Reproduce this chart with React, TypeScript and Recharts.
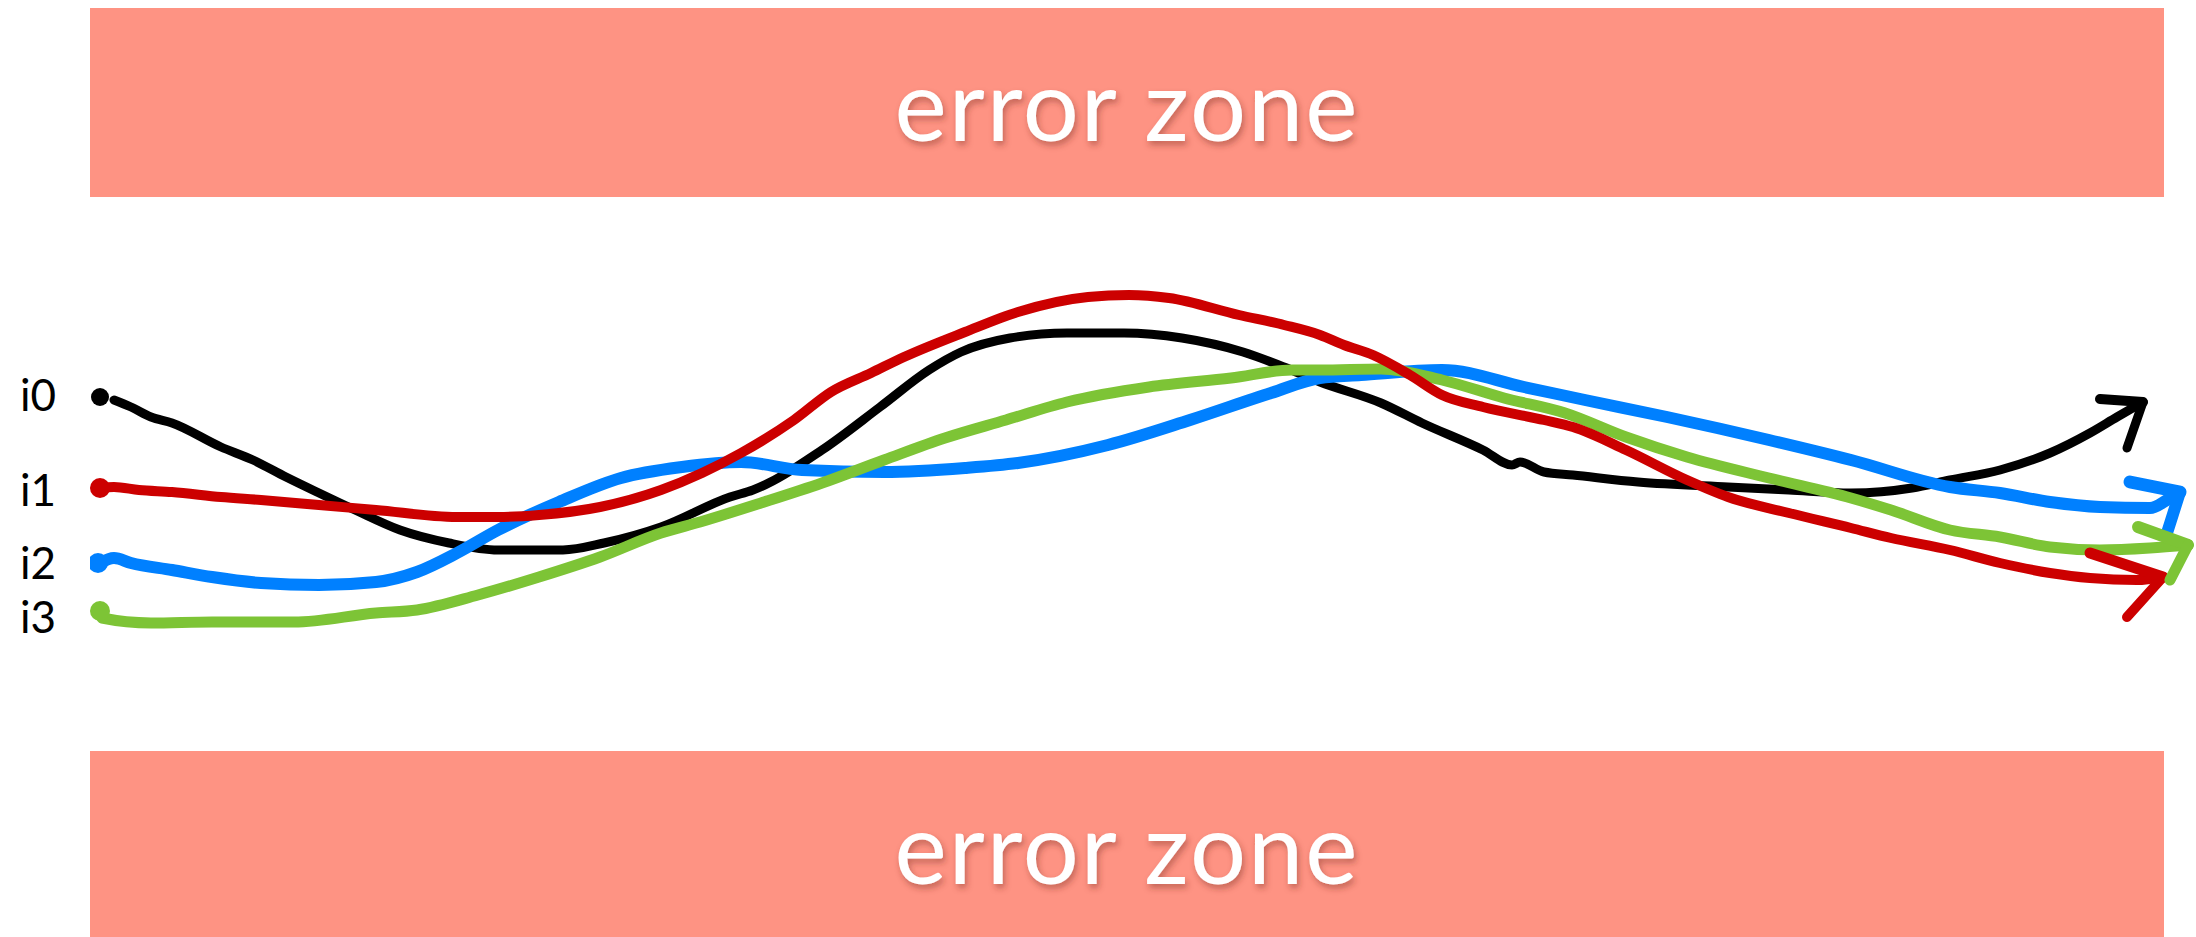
import { ComposedChart, Line, XAxis, YAxis, ReferenceArea } from 'recharts';

// input traces (x = time, y = position; y axis points down)
const i0X = [114, 131, 151, 172, 221, 253, 286, 319, 355, 400, 449, 498, 563, 604, 661, 730, 753, 822, 880, 929, 961, 1010, 1067, 1124, 1182, 1243, 1284, 1320, 1381, 1422, 1483, 1512, 1520, 1544, 1573, 1638, 1728, 1789, 1851, 1912, 1950, 2000, 2050, 2090, 2117, 2143];
const i0Y = [400, 407, 417, 423, 447, 460, 477, 493, 510, 530, 543, 550, 550, 543, 527, 497, 490, 450, 407, 370, 352, 338, 333, 333, 338, 352, 367, 382, 403, 423, 450, 465, 462, 472, 475, 482, 487, 490, 493, 488, 480, 470, 453, 433, 417, 402];

const i1X = [100, 114, 139, 172, 221, 261, 319, 376, 457, 498, 539, 600, 661, 702, 741, 794, 831, 871, 904, 965, 1018, 1088, 1129, 1169, 1239, 1284, 1320, 1344, 1373, 1410, 1442, 1483, 1544, 1573, 1626, 1687, 1728, 1789, 1851, 1891, 1950, 2000, 2050, 2090, 2137, 2163];
const i1Y = [488, 487, 490, 492, 497, 500, 505, 510, 517, 517, 515, 507, 490, 473, 453, 420, 392, 373, 357, 332, 312, 297, 295, 298, 315, 325, 335, 345, 355, 375, 395, 407, 420, 427, 450, 480, 497, 513, 528, 538, 550, 563, 573, 578, 580, 577];

const i2X = [100, 114, 131, 172, 212, 261, 319, 376, 417, 457, 498, 559, 621, 682, 741, 802, 884, 965, 1018, 1108, 1190, 1271, 1320, 1361, 1442, 1524, 1585, 1667, 1769, 1851, 1950, 2000, 2050, 2100, 2150, 2167, 2180];
const i2Y = [563, 558, 563, 570, 577, 583, 585, 582, 572, 553, 530, 502, 478, 467, 462, 470, 472, 468, 463, 445, 420, 393, 378, 375, 370, 387, 400, 417, 440, 460, 487, 493, 502, 507, 508, 500, 492];

const i3X = [100, 102, 151, 212, 294, 376, 417, 478, 539, 600, 661, 700, 761, 822, 884, 945, 1006, 1067, 1149, 1231, 1292, 1320, 1381, 1442, 1504, 1565, 1626, 1687, 1769, 1851, 1891, 1950, 2000, 2050, 2100, 2150, 2188];
const i3Y = [610, 618, 623, 622, 622, 613, 610, 595, 577, 557, 533, 522, 503, 483, 460, 438, 420, 402, 387, 378, 370, 370, 369, 380, 398, 413, 437, 457, 478, 498, 510, 530, 537, 547, 550, 548, 545];

// arrow heads: [tipX, tipY, barb1X, barb1Y, barb2X, barb2Y]
const arrowHeads = [
  [2143, 402, 2100, 399, 2127, 448],
  [2163, 577, 2090, 553, 2127, 617],
  [2180, 492, 2130, 482, 2167, 533],
  [2188, 545, 2138, 527, 2170, 580],
];

// where each trace starts
const startX = [100, 100, 98, 100];
const startY = [397, 488, 563, 611];

const labelNames = ['i0', 'i1', 'i2', 'i3'];
const labelTicks = [395, 490, 563, 617];

// error bands (y ranges)
const errorBands = [
  [8, 197],
  [751, 937],
];
const BAND_X = [90, 2164];

const colors = ['#000000', '#cc0000', '#0080ff', '#7dc436'];
const widths = [9, 10, 12, 11];
const dotR = [9, 10, 10, 10];

const zip = (xs: number[], ys: number[]) => xs.map((x, i) => ({ x, y: ys[i] }));
const traces = [zip(i0X, i0Y), zip(i1X, i1Y), zip(i2X, i2Y), zip(i3X, i3Y)];
const drawOrder = [0, 2, 3, 1];

const ZoneLabel = (props: any) => {
  const { viewBox } = props;
  if (!viewBox) return null;
  return (
    <g>
      <defs>
        <filter id="zoneShadow" x="-10%" y="-30%" width="120%" height="160%">
          <feDropShadow dx="2" dy="4" stdDeviation="3" floodColor="#7a2a20" floodOpacity="0.45" />
        </filter>
      </defs>
      <text
        x={viewBox.x + viewBox.width / 2}
        y={viewBox.y + 133}
        textAnchor="middle"
        fill="#ffffff"
        fontSize={99}
        fontFamily="Lato, sans-serif"
        letterSpacing={2}
        filter="url(#zoneShadow)"
      >
        error zone
      </text>
    </g>
  );
};

const InputTick = (props: any) => {
  const { y, payload } = props;
  const idx = labelTicks.indexOf(payload.value);
  return (
    <text x={20} y={y} dy="0.36em" textAnchor="start" fontSize={44} fontFamily="Lato, sans-serif" fill="#000">
      {labelNames[idx]}
    </text>
  );
};

export default function App() {
  return (
    <div style={{ position: 'absolute', left: 0, top: 0, background: '#fff' }}>
      <ComposedChart width={2196} height={937} margin={{ top: 0, right: 0, bottom: 0, left: 0 }}>
        <XAxis dataKey="x" type="number" domain={[90, 2196]} allowDataOverflow hide />
        <YAxis
          type="number"
          domain={[0, 937]}
          reversed
          allowDataOverflow
          width={90}
          ticks={labelTicks}
          tick={<InputTick />}
          axisLine={false}
          tickLine={false}
          interval={0}
        />
        {errorBands.map(([y1, y2], i) => (
          <ReferenceArea
            key={`band-${i}`}
            x1={BAND_X[0]}
            x2={BAND_X[1]}
            y1={y1}
            y2={y2}
            fill="#fe9383"
            fillOpacity={1}
            stroke="none"
            label={<ZoneLabel />}
          />
        ))}
        {drawOrder.map((s) => (
          <Line
            key={`trace-${s}`}
            data={traces[s]}
            dataKey="y"
            type="monotone"
            stroke={colors[s]}
            strokeWidth={widths[s]}
            strokeLinecap="round"
            strokeLinejoin="round"
            dot={false}
            activeDot={false}
            isAnimationActive={false}
          />
        ))}
        {arrowHeads.map((a, s) => [
          <Line
            key={`barb1-${s}`}
            data={[{ x: a[2], y: a[3] }, { x: a[0], y: a[1] }]}
            dataKey="y"
            type="linear"
            stroke={colors[s]}
            strokeWidth={widths[s] + 1}
            strokeLinecap="round"
            dot={false}
            activeDot={false}
            isAnimationActive={false}
          />,
          <Line
            key={`barb2-${s}`}
            data={[{ x: a[4], y: a[5] }, { x: a[0], y: a[1] }]}
            dataKey="y"
            type="linear"
            stroke={colors[s]}
            strokeWidth={widths[s]}
            strokeLinecap="round"
            dot={false}
            activeDot={false}
            isAnimationActive={false}
          />,
        ])}
        {startX.map((x, s) => (
          <Line
            key={`start-${s}`}
            data={[{ x, y: startY[s] }]}
            dataKey="y"
            stroke={colors[s]}
            dot={{ r: dotR[s], fill: colors[s], stroke: colors[s], strokeWidth: 0 }}
            activeDot={false}
            isAnimationActive={false}
          />
        ))}
      </ComposedChart>
    </div>
  );
}
